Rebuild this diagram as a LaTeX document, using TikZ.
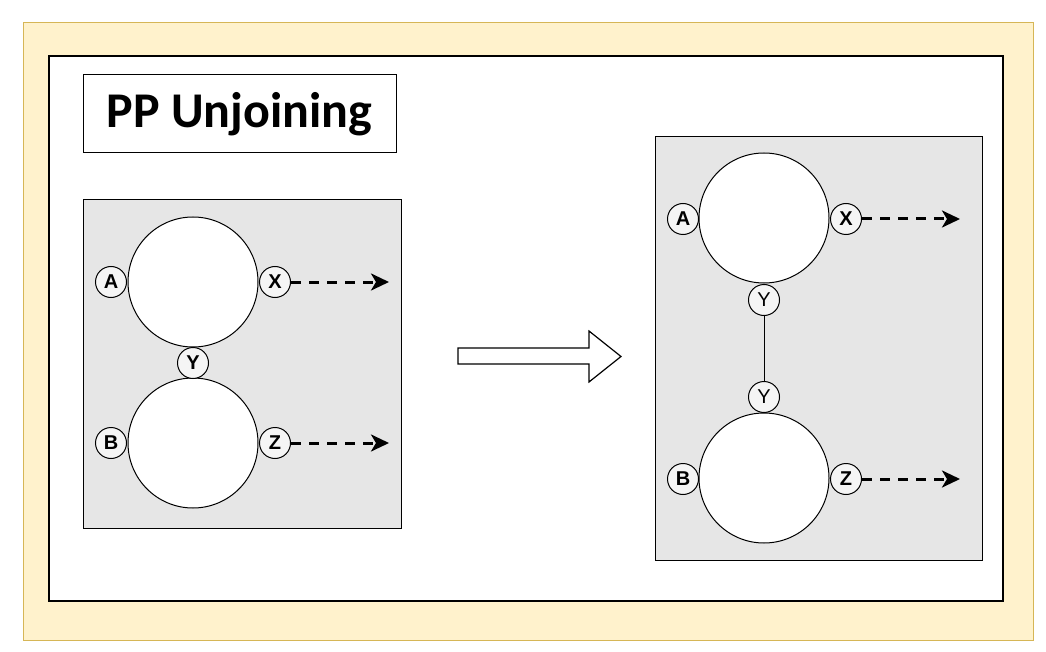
\documentclass[tikz,border=0pt]{standalone}
\usepackage{fontspec}
\setmainfont{Liberation Sans}
\newfontfamily\titlefont{Carlito}
\usetikzlibrary{arrows.meta}
\definecolor{ybg}{HTML}{FFF2CC}
\definecolor{yborder}{HTML}{D6B656}
\definecolor{graybox}{HTML}{E6E6E6}
\definecolor{portfill}{HTML}{F5F5F5}
\tikzset{
  panel/.style={draw=black, fill=graybox, line width=1pt},
  bigc/.style={circle, draw=black, fill=white, line width=1pt, minimum size=130pt, inner sep=0pt},
  port/.style={circle, draw=black, fill=portfill, line width=1pt, minimum size=31pt, inner sep=0pt, font=\fontsize{20pt}{20pt}\selectfont\bfseries},
  portr/.style={port, font=\fontsize{20pt}{20pt}\selectfont},
  outarrow/.style={line width=3pt, dash pattern=on 10pt off 8pt, -{Stealth[length=18pt, width=17pt, inset=5pt]}},
  link/.style={line width=1pt}
}
\begin{document}
\begin{tikzpicture}[x=1pt, y=-1pt]
\useasboundingbox (0,0) rectangle (1046,652);
\fill[white] (0,0) rectangle (1046,652);
% frames
\draw[fill=ybg, draw=yborder, line width=1pt] (23,23) rectangle (1033,640);
\draw[fill=white, draw=black, line width=1.6pt] (49,56) rectangle (1003,601);
% title
\node[draw=black, line width=1pt, minimum width=313pt, minimum height=78pt, inner sep=0pt,
      font=\titlefont\fontsize{50pt}{50pt}\selectfont\bfseries] (title) at (239.5,114) {PP Unjoining};
% left panel
\draw[panel] (83,200) rectangle (401,528);
\node[bigc] (lt) at (193,282) {};
\node[bigc] (lb) at (193,443) {};
\node[port] (la) at (111,282) {A};
\node[port] (lx) at (275,282) {X};
\node[port] (ly) at (193,363) {Y};
\node[port] (lbb) at (111,443) {B};
\node[port] (lz) at (275,443) {Z};
\coordinate (lxe) at (389,282);
\coordinate (lze) at (389,443);
\draw[outarrow] (lx.east) -- (lxe);
\draw[outarrow] (lz.east) -- (lze);
% transition arrow
\draw[line width=1.2pt, fill=white] (458,348) -- (589,348) -- (589,331) -- (621,356.5) -- (589,382) -- (589,364) -- (458,364) -- cycle;
% right panel
\draw[panel] (655,137) rectangle (982,560);
\node[bigc] (rt) at (764,218) {};
\node[bigc] (rb) at (764,478) {};
\node[port] (ra) at (683,219) {A};
\node[port] (rx) at (846,219) {X};
\node[portr] (ry1) at (764,300) {Y};
\node[portr] (ry2) at (764,397) {Y};
\node[port] (rbb) at (683,479) {B};
\node[port] (rz) at (846,479) {Z};
\draw[link] (ry1.south) -- (ry2.north);
\coordinate (rxe) at (960,219);
\coordinate (rze) at (960,479);
\draw[outarrow] (rx.east) -- (rxe);
\draw[outarrow] (rz.east) -- (rze);
\end{tikzpicture}
\end{document}
